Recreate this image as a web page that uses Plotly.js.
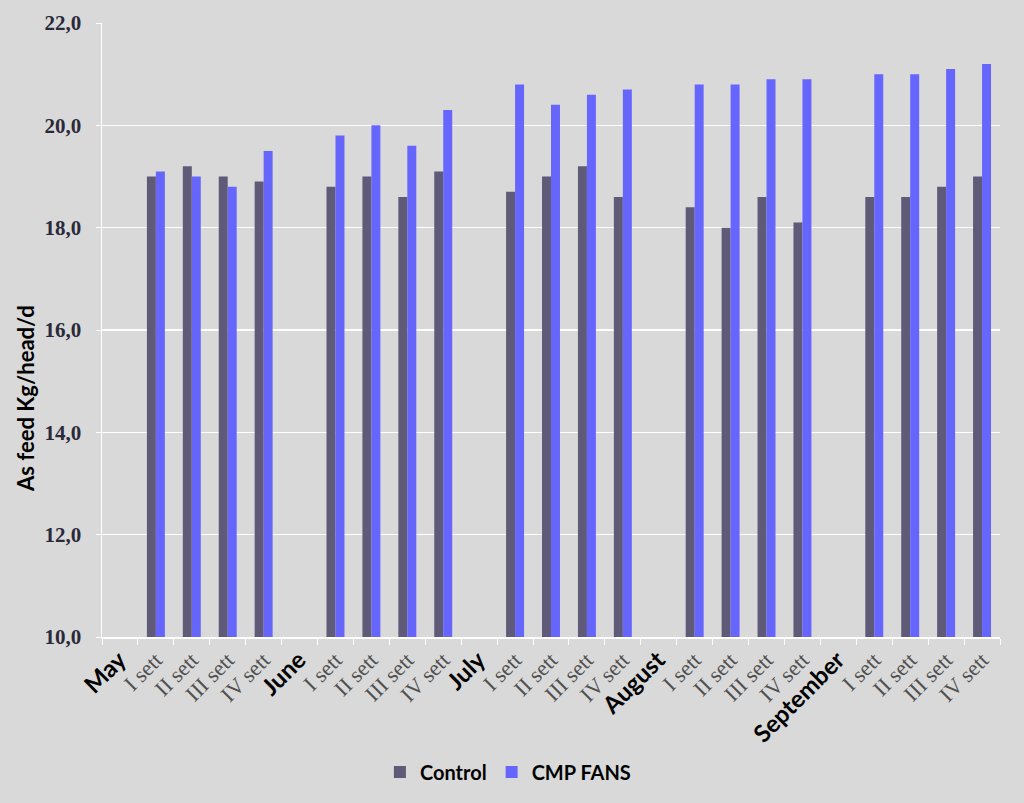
<!DOCTYPE html>
<html>
<head>
<meta charset="utf-8">
<script src="https://cdn.plot.ly/plotly-3.0.1.min.js"></script>
<style>html,body{margin:0;padding:0;background:#d9d9d9;}</style>
</head>
<body>
<div id="chart" style="width:1024px;height:803px;"></div>
<script>
const months = ["May", "June", "July", "August", "September"];
const weeks = ["I sett", "II sett", "III sett", "IV sett"];
const control = [
  [19.0, 19.2, 19.0, 18.9],
  [18.8, 19.0, 18.6, 19.1],
  [18.7, 19.0, 19.2, 18.6],
  [18.4, 18.0, 18.6, 18.1],
  [18.6, 18.6, 18.8, 19.0]
];
const cmpFans = [
  [19.1, 19.0, 18.8, 19.5],
  [19.8, 20.0, 19.6, 20.3],
  [20.8, 20.4, 20.6, 20.7],
  [20.8, 20.8, 20.9, 20.9],
  [21.0, 21.0, 21.1, 21.2]
];
const yTicks = [10, 12, 14, 16, 18, 20, 22];
const yTitle = 'As feed Kg/head/d';

const xs = [], labels = [], yc = [], yf = [];
let idx = 0;
months.forEach((m, mi) => {
  xs.push(idx); labels.push('<span style="font-family:Lato;font-weight:bold;fill:#000;font-size:24px">' + m + '</span>');
  yc.push(null); yf.push(null); idx++;
  weeks.forEach((w, wi) => {
    xs.push(idx); labels.push(w);
    yc.push(control[mi][wi]); yf.push(cmpFans[mi][wi]); idx++;
  });
});

const data = [
  {type: 'bar', name: 'Control', x: xs, y: yc, marker: {color: '#5f5a78'}},
  {type: 'bar', name: 'CMP FANS', x: xs, y: yf, marker: {color: '#6666ff'}}
];

const layout = {
  width: 1024, height: 803,
  paper_bgcolor: '#d9d9d9', plot_bgcolor: '#d9d9d9',
  margin: {l: 102, r: 24, t: 23, b: 166},
  barmode: 'group', bargap: 0.5, bargroupgap: 0,
  separators: ',.',
  showlegend: true,
  legend: {orientation: 'h', x: 0.452, xanchor: 'center', y: -0.22, yanchor: 'middle',
    font: {family: 'Lato', size: 20, color: '#000', weight: 'bold'}, bgcolor: 'rgba(0,0,0,0)'},
  xaxis: {
    range: [-0.5, xs.length - 0.5],
    tickvals: xs, ticktext: labels, tickangle: -45,
    ticks: '', showgrid: false, zeroline: false,
    showline: true, linecolor: '#ffffff', linewidth: 1.5,
    tickfont: {family: 'Liberation Serif', size: 22, color: '#505050'},
    minor: {tick0: 0.5, dtick: 1, ticks: 'outside', ticklen: 6, tickcolor: '#ffffff', showgrid: false},
    fixedrange: true
  },
  yaxis: {
    range: [10, 22], tickvals: yTicks, tickformat: '.1f',
    showgrid: true, gridcolor: '#ffffff', gridwidth: 1.5,
    showline: true, linecolor: '#ffffff', linewidth: 1.5,
    ticks: 'outside', ticklen: 5, tickcolor: '#ffffff',
    ticklabelstandoff: 10,
    zeroline: false,
    tickfont: {family: 'Liberation Serif', size: 21, color: '#2a2a3a', weight: 'bold'},
    fixedrange: true
  },
  annotations: [{
    text: yTitle, textangle: -90, showarrow: false,
    xref: 'paper', yref: 'paper', x: -0.086, y: 0.389, xanchor: 'center', yanchor: 'middle',
    font: {family: 'Lato', size: 22, color: '#000', weight: 'bold'}
  }]
};

Plotly.newPlot('chart', data, layout, {displayModeBar: false, staticPlot: true});
</script>
</body>
</html>
